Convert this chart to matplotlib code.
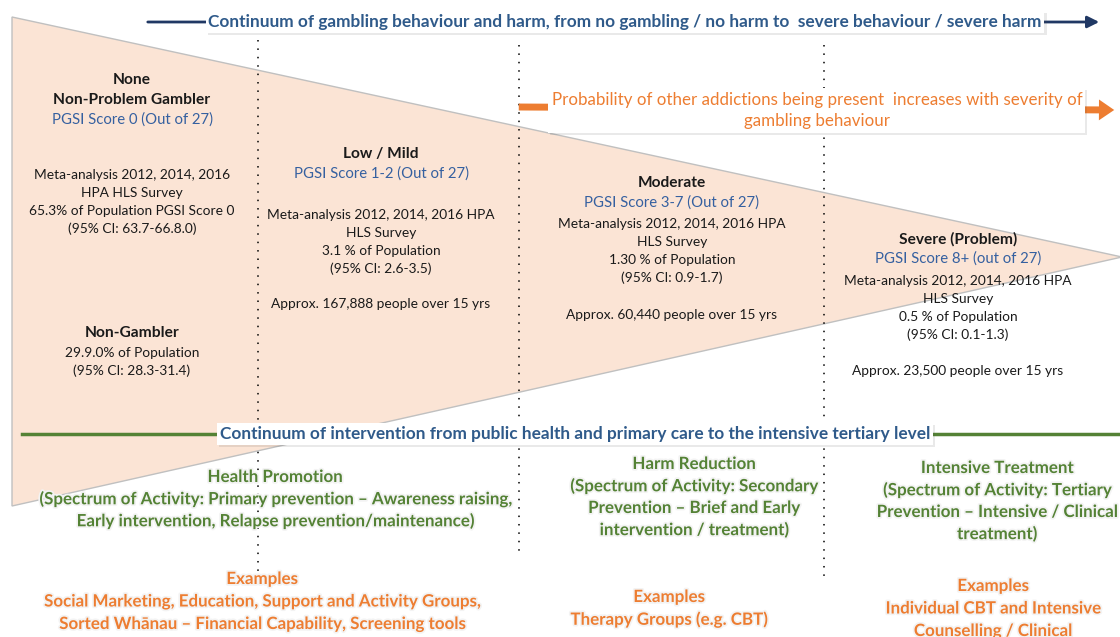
import matplotlib.pyplot as plt
from matplotlib.patches import Polygon
import matplotlib.patheffects as pe

plt.rcParams['font.family'] = ['Lato', 'DejaVu Sans']

# ---- text content ----
TOP_CONTINUUM = "Continuum of gambling behaviour and harm, from no gambling / no harm to  severe behaviour / severe harm"
ADDICTION_NOTE = ["Probability of other addictions being present  increases with severity of",
                  "gambling behaviour"]
INTERVENTION_CONTINUUM = "Continuum of intervention from public health and primary care to the intensive tertiary level"

SEVERITY_TITLES = [["None", "Non-Problem Gambler"], ["Low / Mild"], ["Moderate"], ["Severe (Problem)"]]
PGSI_LABELS = ["PGSI Score 0 (Out of 27)", "PGSI Score 1-2 (Out of 27)",
               "PGSI Score 3-7 (Out of 27)", "PGSI Score 8+ (out of 27)"]
SURVEY_STATS = [
    ["Meta-analysis 2012, 2014, 2016", "HPA HLS Survey", "65.3% of Population PGSI Score 0", "(95% CI: 63.7-66.8.0)"],
    ["Meta-analysis 2012, 2014, 2016 HPA", "HLS Survey", "3.1 % of Population", "(95% CI: 2.6-3.5)"],
    ["Meta-analysis 2012, 2014, 2016 HPA", "HLS Survey", "1.30 % of Population", "(95% CI: 0.9-1.7)"],
    ["Meta-analysis 2012, 2014, 2016 HPA", "HLS Survey", "0.5 % of Population", "(95% CI: 0.1-1.3)"],
]
PEOPLE_COUNTS = [None, "Approx. 167,888 people over 15 yrs", "Approx. 60,440 people over 15 yrs",
                 "Approx. 23,500 people over 15 yrs"]
NON_GAMBLER = ["Non-Gambler", "29.9.0% of Population", "(95% CI: 28.3-31.4)"]

INTERVENTIONS = [
    ["Health Promotion", "(Spectrum of Activity: Primary prevention \u2013 Awareness raising,",
     "Early intervention, Relapse prevention/maintenance)"],
    ["Harm Reduction", "(Spectrum of Activity: Secondary", "Prevention \u2013 Brief and Early",
     "intervention / treatment)"],
    ["Intensive Treatment", "(Spectrum of Activity: Tertiary", "Prevention \u2013 Intensive / Clinical",
     "treatment)"],
]
EXAMPLES = [
    ["Examples", "Social Marketing, Education, Support and Activity Groups,",
     "Sorted Wh\u0101nau \u2013 Financial Capability, Screening tools"],
    ["Examples", "Therapy Groups (e.g. CBT)"],
    ["Examples", "Individual CBT and Intensive", "Counselling / Clinical"],
]

BLACK = '#1a1a1a'
BLUE = '#3560a0'
NAVY = '#203864'
ORANGE = '#ED7D31'
GREEN = '#548235'
PEACH = '#FBE4D5'


def lines(ax, items, x, y0, step, **kw):
    for i, s in enumerate(items):
        ax.text(x, y0 + i * step, s, ha='center', va='center', **kw)


fig = plt.figure(figsize=(11.2, 6.37), dpi=100)
ax = fig.add_axes([0, 0, 1, 1])
ax.set_xlim(0, 1120)
ax.set_ylim(637, 0)
ax.axis('off')

# severity wedge
ax.add_patch(Polygon([(12, 17), (1122, 257), (12, 506)], closed=True,
                     fc=PEACH, ec='#c0c0c0', lw=1, zorder=0))

# dotted dividers
for x, y1, y2 in [(258, 40, 578), (519, 45, 555), (824, 45, 578)]:
    ax.plot([x, x], [y1, y2], color='black', lw=1.1, ls=(0, (1, 4.5)), zorder=1)

shadow = [pe.SimplePatchShadow(offset=(1.5, -1.5), alpha=0.12), pe.Normal()]

# top continuum arrow
ax.annotate('', xy=(1102, 22), xytext=(145, 22),
            arrowprops=dict(arrowstyle='-|>,head_length=0.7,head_width=0.35', color=NAVY, lw=2),
            zorder=2)
ax.text(625, 22, TOP_CONTINUUM, ha='center', va='center', fontsize=12.4, fontweight='bold',
        color='#2f5a8a', zorder=3,
        bbox=dict(fc='white', ec='none', pad=2.0, path_effects=shadow))

# orange addiction arrow
ax.annotate('', xy=(1117, 110), xytext=(516, 107),
            arrowprops=dict(arrowstyle='simple,head_length=1.1,head_width=1.5,tail_width=0.5',
                            fc=ORANGE, ec=ORANGE, lw=0), zorder=2)
ax.add_patch(plt.Rectangle((548, 88), 537, 45, fc='white', ec='none', zorder=3, path_effects=shadow))
lines(ax, ADDICTION_NOTE, 817, 100, 21, fontsize=12.2, color=ORANGE, zorder=4)

# severity columns
col_x = [132, 381, 672, 958]
title_y = [80, 154, 183, 239]
stats_y = [175, 215, 224, 281]
count_y = [0, 304, 315, 371]
for i in range(4):
    x = col_x[i]
    y = title_y[i]
    t = SEVERITY_TITLES[i]
    lines(ax, t, x, y, 20, fontsize=11.2, fontweight='bold', color=BLACK)
    ax.text(x, y + 20 * len(t), PGSI_LABELS[i], ha='center', va='center', fontsize=10.7, color=BLUE)
    lines(ax, SURVEY_STATS[i], x, stats_y[i], 18, fontsize=9.9, color=BLACK)
    if PEOPLE_COUNTS[i]:
        ax.text(x, count_y[i], PEOPLE_COUNTS[i], ha='center', va='center', fontsize=9.9, color=BLACK)

ax.text(132, 333, NON_GAMBLER[0], ha='center', va='center', fontsize=11.2, fontweight='bold', color=BLACK)
lines(ax, NON_GAMBLER[1:], 132, 353, 18, fontsize=9.9, color=BLACK)

# intervention continuum line
ax.plot([22, 1120], [434, 434], color=GREEN, lw=2.5, zorder=2)
ax.text(575, 434, INTERVENTION_CONTINUUM, ha='center', va='center', fontsize=12.4, fontweight='bold',
        color='#2f5a8a', zorder=3,
        bbox=dict(fc='white', ec='none', pad=2.0, path_effects=shadow))

glow = [pe.withStroke(linewidth=2.5, foreground='#f3f3f3')]
for items, x, y in zip(INTERVENTIONS, [275, 694, 997], [477, 464, 468]):
    lines(ax, items, x, y, 22, fontsize=12.2, fontweight='bold', color=GREEN, path_effects=glow)

for items, x, y in zip(EXAMPLES, [262, 669, 993], [579, 597, 586]):
    lines(ax, items, x, y, 22.5, fontsize=12.2, fontweight='bold', color=ORANGE, path_effects=glow)

fig.savefig('out.png', dpi=100)
